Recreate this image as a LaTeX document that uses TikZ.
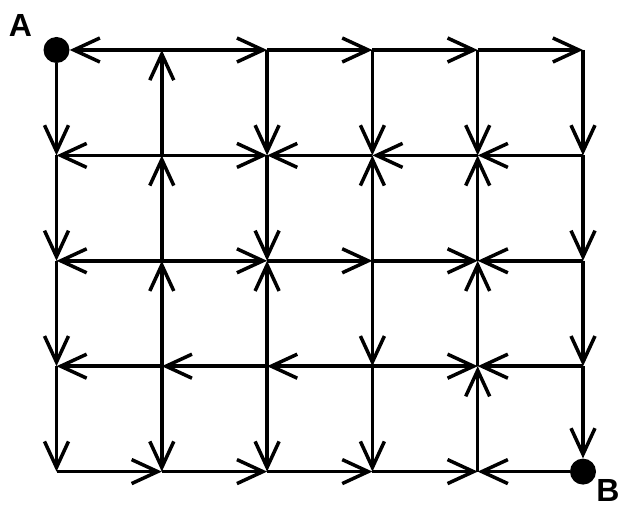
\documentclass[tikz,border=0pt]{standalone}
\usepackage{fontspec}
\setmainfont{Liberation Sans}
\usetikzlibrary{arrows.meta}
\begin{document}
\begin{tikzpicture}[x=1pt,y=-1pt,
  edge/.style={line width=3.5pt,-{Straight Barb[length=26pt,width=24pt]}},
  dot/.style={circle,fill=black,draw=none,minimum size=26pt,inner sep=0pt},
  lbl/.style={font=\fontsize{32}{32}\selectfont\bfseries,inner sep=0pt}]
\useasboundingbox (0,0) rectangle (624,510);
\fill[white] (0,0) rectangle (624,510);
% grid points
\foreach \i in {0,...,5}{
  \foreach \j in {0,...,4}{
    \coordinate (n\i\j) at ({56.5+105.3*\i},{50+105.4*\j});
  }
}
\node[dot] (n00) at (56.5,50) {};
\node[dot] (n54) at ({56.5+105.3*5},{50+105.4*4}) {};
\node[lbl] (la) at (20.5,25) {A};
\node[lbl] (lb) at (608,490) {B};
\foreach \a/\b in {
  10/00, 10/20, 20/30, 30/40, 40/50,
  00/01, 11/10, 20/21, 30/31, 40/41, 50/51,
  11/01, 11/21, 31/21, 41/31, 51/41,
  01/02, 12/11, 21/22, 32/31, 42/41, 51/52,
  12/02, 12/22, 22/32, 32/42, 52/42,
  02/03, 13/12, 23/22, 32/33, 43/42, 52/53,
  13/03, 23/13, 33/23, 33/43, 53/43,
  03/04, 13/14, 23/24, 33/34, 44/43, 53/54,
  04/14, 14/24, 24/34, 34/44, 54/44}
  \draw[edge] (n\a) -- (n\b);
\end{tikzpicture}
\end{document}
